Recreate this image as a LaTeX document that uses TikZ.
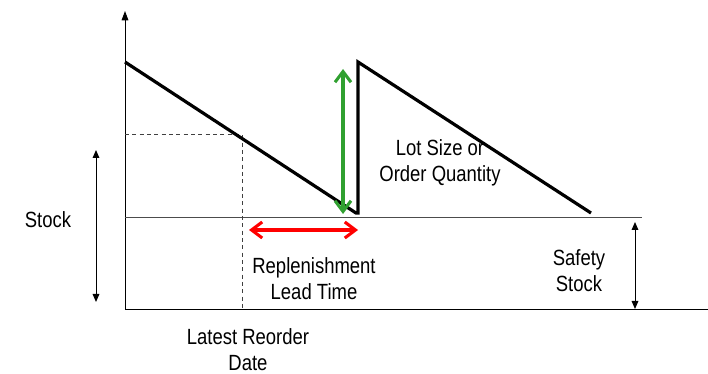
\documentclass[tikz,border=0pt]{standalone}
\usepackage{fontspec}
\setmainfont{Liberation Sans}[FakeStretch=0.84]
\usetikzlibrary{arrows.meta}
\definecolor{lotgreen}{RGB}{48,160,48}
\begin{document}
\begin{tikzpicture}[x=0.75pt,y=-0.75pt,
  lbl/.style={align=center,inner sep=0pt,font=\fontsize{16.5}{19.5}\selectfont},
  axisline/.style={line width=0.75pt,draw=black},
  thinline/.style={line width=0.75pt,draw=black!70},
  saw/.style={line width=2.4pt,line join=miter,draw=black},
  dashline/.style={line width=0.75pt,dash pattern=on 3pt off 2.5pt,draw=black!75},
  measure/.style={line width=0.75pt,{Triangle[length=6pt,width=5pt]}-{Triangle[length=6pt,width=5pt]}},
  bigarrow/.style={line width=2.3pt,{Straight Barb[length=8pt,width=12pt,line width=2.3pt]}-{Straight Barb[length=8pt,width=12pt,line width=2.3pt]}}
]
\useasboundingbox (0,0) rectangle (708,374);
% axes
\coordinate (O) at (125,310);
\coordinate (Ytop) at (125,11);
\coordinate (Xend) at (708,310);
\draw[axisline,-{Triangle[length=7pt,width=5pt]}] (O) -- (Ytop);
\draw[axisline] (O) -- (Xend);
% safety stock line
\coordinate (S0) at (125,218);
\coordinate (S1) at (642,218);
\draw[thinline] (S0) -- (S1);
% dashed reorder lines
\coordinate (D0) at (125,135);
\coordinate (D1) at (242,135);
\coordinate (D2) at (242,310);
\draw[dashline] (D0) -- (D1) -- (D2);
% sawtooth
\coordinate (P0) at (125,62);
\coordinate (P1) at (356,213);
\coordinate (P2) at (358,213);
\coordinate (P3) at (358,62);
\coordinate (P4) at (591,213);
\draw[saw] (P0) -- (P1) -- (P2) -- (P3) -- (P4);
% green lot size arrow
\coordinate (G0) at (343,69);
\coordinate (G1) at (343,214);
\draw[bigarrow,draw=lotgreen] (G0) -- (G1);
% red lead time arrow
\coordinate (R0) at (249,230);
\coordinate (R1) at (358,230);
\draw[bigarrow,draw=red] (R0) -- (R1);
% stock arrow
\coordinate (K0) at (96,150);
\coordinate (K1) at (96,302);
\draw[measure] (K0) -- (K1);
% safety stock arrow
\coordinate (F0) at (635,222);
\coordinate (F1) at (635,309);
\draw[measure] (F0) -- (F1);
% labels
\node[lbl] (stock) at (48,220) {Stock};
\node[lbl] (lot) at (440,163) {Lot Size or\\Order Quantity};
\node[lbl] (lead) at (314,279) {Replenishment\\Lead Time};
\node[lbl] (safety) at (579,271) {Safety\\Stock};
\node[lbl] (reorder) at (248,350) {Latest Reorder\\Date};
\end{tikzpicture}
\end{document}
